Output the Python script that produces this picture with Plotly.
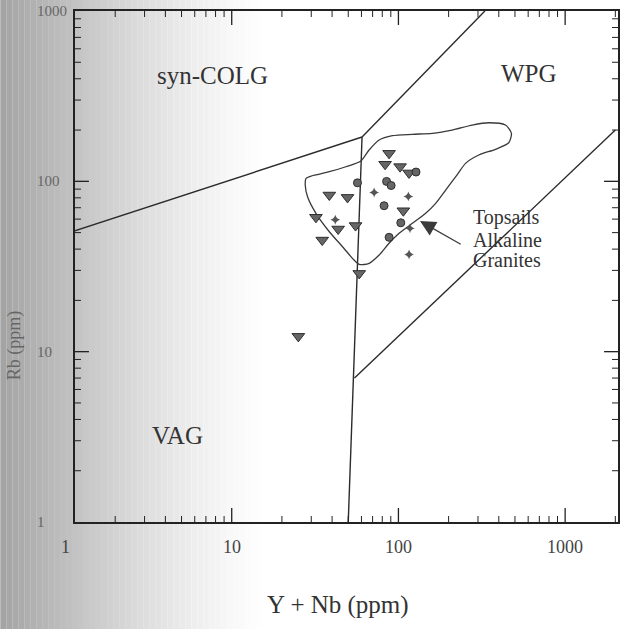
import math
import plotly.graph_objects as go

# ---------------- data ----------------
# Discrimination boundaries (Y+Nb ppm, Rb ppm)
colg_vag_x = [1.0, 60.5]
colg_vag_y = [49.0, 182.0]
colg_wpg_x = [60.5, 330.0]
colg_wpg_y = [182.0, 1000.0]
vag_wpg_x = [60.5, 50.0]
vag_wpg_y = [182.0, 1.0]
wpg_lower_x = [54.5, 2000.0]
wpg_lower_y = [7.0, 200.0]

# Outline of the Topsails alkaline granite field
field_x = [27.9, 29.9, 38.5, 48.4, 59.5, 66.7, 76.6, 92.0, 121.2, 159.6, 210.2,
           276.8, 348.4, 438.4, 476.1, 458.8, 382.0, 303.5, 252.7, 224.2, 191.9,
           167.2, 145.7, 121.2, 100.9, 87.9, 76.6, 66.7, 58.2, 53.0, 46.2, 38.5,
           32.0, 28.5, 27.6]
field_y = [104.1, 107.4, 113.9, 121.8, 131.6, 152.7, 174.8, 185.3, 188.8, 191.4,
           200.1, 214.1, 220.8, 214.1, 191.4, 168.5, 154.2, 142.7, 127.5, 108.9,
           88.9, 74.3, 64.9, 56.7, 49.5, 43.3, 36.9, 33.0, 32.5, 35.3, 41.3, 50.6,
           64.9, 81.2, 95.1]

# Samples
tri_x = [87.9, 83.2, 102.3, 115.8, 38.5, 49.5, 107.0, 32.0, 43.5, 55.3, 34.9, 58.2, 25.1]
tri_y = [146.0, 126.0, 122.0, 112.0, 83.1, 80.5, 67.2, 61.5, 52.5, 55.0, 45.2, 28.8, 12.3]
circ_x = [56.8, 84.9, 90.4, 82.0, 103.3, 87.9, 127.5]
circ_y = [98.0, 99.9, 94.5, 71.9, 57.1, 46.9, 113.4]
cross_x = [71.5, 114.7, 41.8, 117.3, 115.8]
cross_y = [86.0, 81.6, 59.5, 53.0, 37.2]

# Field labels (centre positions, Y+Nb, Rb)
region_labels = ["syn-COLG", "WPG", "VAG"]
region_x = [7.7, 608.0, 4.7]
region_y = [418.0, 429.0, 3.23]

field_label_lines = ["Topsails", "Alkaline", "Granites"]
field_label_x = 271.0
field_label_y = [61.5, 45.5, 34.3]
arrow_tip = (134.7, 58.4)
arrow_tail = (241.3, 42.2)

# Axes
x_range = [1.148, 2075.0]
y_range = [1.0, 1000.0]
tick_vals = [1, 10, 100, 1000]
tick_labels = ["1", "10", "100", "1000"]
minor_mult = [2, 3, 4, 5, 6, 7, 8, 9]

# ---------------- figure ----------------
W, H = 627, 629
ML, MR, MT, MB = 75, 7, 11, 107
PW, PH = W - ML - MR, H - MT - MB

SERIF = "Liberation Serif, Times New Roman, serif"
INK = "#2b2b2b"

x0_log, x1_log = math.log10(x_range[0]), math.log10(x_range[1])
y0_log, y1_log = math.log10(y_range[0]), math.log10(y_range[1])
x_span, y_span = x1_log - x0_log, y1_log - y0_log


def px_x(px):
    return (px - ML) / PW


def px_y(py):
    return (MT + PH - py) / PH


def xpaper(v):
    return (math.log10(v) - x0_log) / x_span


def ypaper(v):
    return (math.log10(v) - y0_log) / y_span


fig = go.Figure()

bnd = dict(color=INK, width=1.4)
for xs, ys in [(colg_vag_x, colg_vag_y), (colg_wpg_x, colg_wpg_y),
               (vag_wpg_x, vag_wpg_y), (wpg_lower_x, wpg_lower_y)]:
    fig.add_trace(go.Scatter(x=xs, y=ys, mode="lines", line=bnd,
                             hoverinfo="skip", showlegend=False))

fig.add_trace(go.Scatter(
    x=field_x + [field_x[0]], y=field_y + [field_y[0]], mode="lines",
    line=dict(color="#3a3a3a", width=1.3, shape="spline", smoothing=0.7),
    hoverinfo="skip", showlegend=False))

fig.add_trace(go.Scatter(
    x=tri_x, y=tri_y, mode="markers", showlegend=False,
    marker=dict(symbol="triangle-down", size=11, color="#666666",
                line=dict(color="#2e2e2e", width=1))))
fig.add_trace(go.Scatter(
    x=circ_x, y=circ_y, mode="markers", showlegend=False,
    marker=dict(symbol="circle", size=8, color="#666666",
                line=dict(color="#2e2e2e", width=1))))
fig.add_trace(go.Scatter(
    x=cross_x, y=cross_y, mode="markers", showlegend=False,
    marker=dict(symbol="star-diamond", size=7, color="#555555",
                line=dict(width=0))))

# inside tick marks on all four sides, built from the tick values and axis range
MAJ, MIN = 14, 6
for major in (True, False):
    L = MAJ if major else MIN
    if major:
        xv = [v for v in tick_vals if x_range[0] < v < x_range[1]]
        yv = [v for v in tick_vals if y_range[0] < v < y_range[1]]
    else:
        xv = [m * 10 ** d for d in range(0, 4) for m in minor_mult
              if x_range[0] < m * 10 ** d < x_range[1]]
        yv = [m * 10 ** d for d in range(0, 3) for m in minor_mult
              if y_range[0] < m * 10 ** d < y_range[1]]
    dy = L / PH * y_span
    dx = L / PW * x_span
    tx, ty = [], []
    for v in xv:
        tx += [v, v, None, v, v, None]
        ty += [10 ** y0_log, 10 ** (y0_log + dy), None,
               10 ** y1_log, 10 ** (y1_log - dy), None]
    for v in yv:
        tx += [10 ** x0_log, 10 ** (x0_log + dx), None,
               10 ** x1_log, 10 ** (x1_log - dx), None]
        ty += [v, v, None, v, v, None]
    fig.add_trace(go.Scatter(x=tx, y=ty, mode="lines", hoverinfo="skip",
                             showlegend=False, cliponaxis=False,
                             line=dict(color="#222222", width=1.3 if major else 1.0)))

# scanned-page shading on the left (decoration)
shapes = []
step = 6
for px in range(0, 300, step):
    mid = px + step / 2
    t = max(0.0, 1 - mid / 270.0)
    g = int(round(255 - 92 * t ** 1.3))
    shapes.append(dict(type="rect", xref="paper", yref="paper", layer="below",
                       x0=px_x(px), x1=px_x(px + step),
                       y0=px_y(H), y1=px_y(0),
                       line=dict(width=0), fillcolor=f"rgb({g},{g},{g})"))

annotations = []
for txt, x, y in zip(region_labels, region_x, region_y):
    annotations.append(dict(x=math.log10(x), y=math.log10(y), xref="x", yref="y",
                            text=txt, showarrow=False,
                            xanchor="center", yanchor="middle",
                            font=dict(family=SERIF, size=25, color="#333333")))
for txt, y in zip(field_label_lines, field_label_y):
    annotations.append(dict(x=math.log10(field_label_x), y=math.log10(y),
                            xref="x", yref="y", text=txt, showarrow=False,
                            xanchor="left", yanchor="middle",
                            font=dict(family=SERIF, size=20, color="#333333")))
annotations.append(dict(x=math.log10(arrow_tip[0]), y=math.log10(arrow_tip[1]),
                        ax=math.log10(arrow_tail[0]), ay=math.log10(arrow_tail[1]),
                        xref="x", yref="y", axref="x", ayref="y", text="",
                        showarrow=True, arrowhead=2, arrowsize=2.6, arrowwidth=1.2,
                        arrowcolor="#3a3a3a", standoff=0, startstandoff=0))
# axis titles
annotations.append(dict(x=px_x(339), y=px_y(605), xref="paper", yref="paper",
                        text="Y + Nb (ppm)", showarrow=False,
                        xanchor="center", yanchor="middle",
                        font=dict(family=SERIF, size=25, color="#333333")))
annotations.append(dict(x=px_x(14), y=px_y(345), xref="paper", yref="paper",
                        text="Rb (ppm)", showarrow=False, textangle=-90,
                        xanchor="center", yanchor="middle",
                        font=dict(family=SERIF, size=18, color="#666666")))
# x tick labels (the "1" sits left of the frame, as in the scan)
for v, lab in zip(tick_vals, tick_labels):
    annotations.append(dict(x=xpaper(v), y=px_y(547), xref="paper", yref="paper",
                            text=lab, showarrow=False,
                            xanchor="center", yanchor="middle",
                            font=dict(family=SERIF, size=18, color="#444444")))
# y tick labels, left aligned as in the scan
for v, lab in zip(tick_vals, tick_labels):
    annotations.append(dict(x=px_x(35), y=ypaper(v), xref="paper", yref="paper",
                            text=lab, showarrow=False,
                            xanchor="left", yanchor="middle",
                            font=dict(family=SERIF, size=15, color="#666666")))

axis_common = dict(type="log", showgrid=False, zeroline=False,
                   showline=True, linecolor="#222222", linewidth=1.5, mirror=True,
                   ticks="", showticklabels=False)

fig.update_layout(
    width=W, height=H,
    margin=dict(l=ML, r=MR, t=MT, b=MB),
    paper_bgcolor="white", plot_bgcolor="white",
    showlegend=False,
    shapes=shapes, annotations=annotations,
    xaxis=dict(range=[x0_log, x1_log], **axis_common),
    yaxis=dict(range=[y0_log, y1_log], **axis_common),
)

fig.write_html("out.html")
